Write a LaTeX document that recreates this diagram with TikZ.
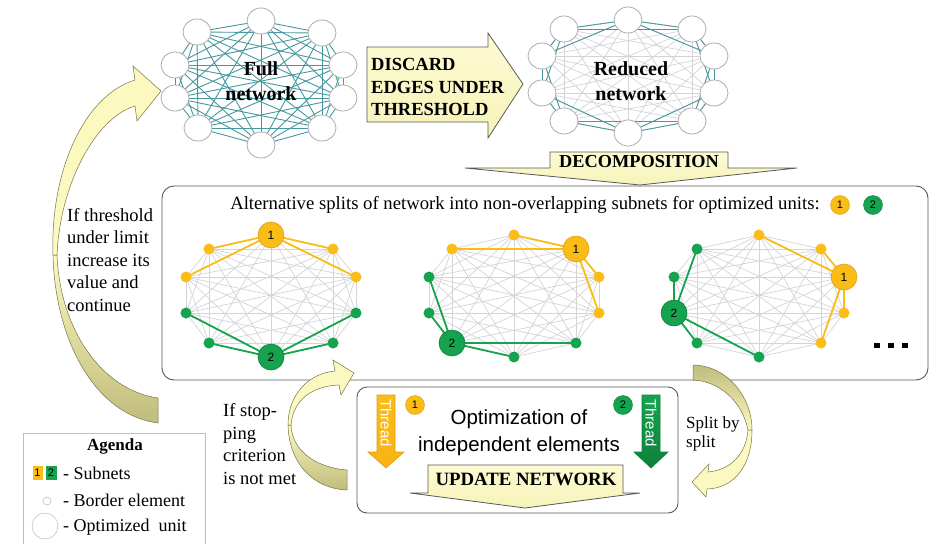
\documentclass[tikz,border=0pt]{standalone}
\usepackage{fontspec}
\setmainfont{Liberation Serif}
\setsansfont{Liberation Sans}
\usetikzlibrary{calc}
\definecolor{tealE}{RGB}{70,152,158}
\definecolor{grayE}{RGB}{212,212,216}
\definecolor{ylight}{RGB}{252,249,192}
\definecolor{yolive}{RGB}{192,188,124}
\definecolor{orangeC}{RGB}{250,188,22}
\definecolor{orangeD}{RGB}{222,160,20}
\definecolor{greenC}{RGB}{22,163,80}
\definecolor{greenD}{RGB}{14,128,58}
\definecolor{frameC}{RGB}{88,88,88}
\definecolor{circB}{RGB}{172,172,172}
\definecolor{arrowE}{RGB}{120,116,70}
\newcommand{\myfs}[2]{\fontsize{#1}{#2}\selectfont}
\tikzset{
  netcirc/.style={ellipse, draw=circB, fill=white, minimum width=28pt, minimum height=26pt, inner sep=0pt, line width=0.8pt},
  bigO/.style={circle, fill=orangeC, draw=orangeD, minimum size=26pt, inner sep=0pt, line width=0.6pt, font=\sffamily\myfs{12}{12}},
  bigG/.style={circle, fill=greenC, draw=greenD, minimum size=26pt, inner sep=0pt, line width=0.6pt, font=\sffamily\myfs{12}{12}},
  dotO/.style={circle, fill=orangeC, minimum size=11pt, inner sep=0pt},
  dotG/.style={circle, fill=greenC, minimum size=11pt, inner sep=0pt},
  smallO/.style={circle, fill=orangeC, draw=orangeD, minimum size=19pt, inner sep=0pt, font=\sffamily\myfs{11}{11}},
  smallG/.style={circle, fill=greenC, draw=greenD, minimum size=19pt, inner sep=0pt, font=\sffamily\myfs{11}{11}},
  tealedge/.style={tealE, line width=0.9pt},
  faintedge/.style={grayE, line width=0.7pt},
  grayedge/.style={grayE, line width=0.7pt},
  oedge/.style={orangeC, line width=1.8pt},
  gedge/.style={greenC, line width=1.8pt},
  yarrow/.style={draw=frameC, line width=0.8pt, top color=ylight!70!white, bottom color=ylight!90!yolive},
  btext/.style={font=\bfseries\myfs{18.5}{22.5}, align=left, inner sep=0pt},
  ntext/.style={font=\bfseries\myfs{20}{25}, align=center, inner sep=0pt},
  stext/.style={font=\myfs{18.5}{22.5}, align=left, inner sep=0pt},
  curvedge/.style={draw=arrowE, line width=0.5pt},
  roundbox/.style={draw=frameC, line width=0.9pt, rounded corners=12pt},
}
\usetikzlibrary{shapes.geometric}
\begin{document}
\begin{tikzpicture}[x=1pt,y=-1pt]
\useasboundingbox (0,0) rectangle (937,544);
\fill[white] (0,0) rectangle (937,544);

% ---------- Full network ----------
\foreach \i/\x/\y in {1/261/21, 2/322/33, 3/343/65, 4/343/98, 5/322/128, 6/261/145, 7/198/128, 8/175/98, 9/175/65, 10/197/32}
  \coordinate (F\i) at (\x,\y);
\foreach \i in {1,...,10} \foreach \j in {1,...,10} {\ifnum\i<\j \draw[tealedge] (F\i) -- (F\j);\fi}
\foreach \i in {1,...,10} \node[netcirc] (FN\i) at (F\i) {};
\node[ntext] (fulltxt) at (261,81) {Full\\network};

% ---------- Reduced network ----------
\foreach \i/\x/\y in {1/628/20, 2/692/29, 3/714/56, 4/714/93, 5/692/121, 6/628/133, 7/564/121, 8/542/93, 9/542/56, 10/564/29}
  \coordinate (R\i) at (\x,\y);
\foreach \i in {1,...,10} \foreach \j in {1,...,10} {\ifnum\i<\j \draw[faintedge] (R\i) -- (R\j);\fi}
\foreach \i in {1,...,10} {
  \pgfmathtruncatemacro\j{mod(\i,10)+1}
  \pgfmathtruncatemacro\k{mod(\i+1,10)+1}
  \draw[tealedge] (R\i) -- (R\j);
  \draw[tealedge] (R\i) -- (R\k);
}
\foreach \i in {1,...,10} \node[netcirc] (RN\i) at (R\i) {};
\node[ntext] (redtxt) at (631,81) {Reduced\\network};

% ---------- Discard arrow ----------
\draw[yarrow] (367,47) -- (488,47) -- (488,33) -- (523,84) -- (488,138) -- (488,122) -- (367,122) -- cycle;
\node[btext, anchor=west] (discard) at (371,87) {DISCARD\\EDGES UNDER\\THRESHOLD};

% ---------- Decomposition arrow ----------
\draw[yarrow] (550,152) -- (728,152) -- (728,168) -- (797,168) -- (640,185) -- (465,168) -- (550,168) -- cycle;
\node[font=\bfseries\myfs{18.3}{18}, inner sep=0pt] (decomp) at (639,162) {DECOMPOSITION};

% ---------- Alternative splits box ----------
\draw[roundbox] (162,186) rectangle (928,380);
\node[font=\myfs{18.7}{20}, inner sep=0pt] (alttxt) at (525,205) {Alternative splits of network into non-overlapping subnets for optimized units:};
\node[smallO] (alt1) at (840,205) {1};
\node[smallG] (alt2) at (873,205) {2};

\foreach \g/\cx in {A/271, B/514, C/759} {
  \foreach \i/\dx/\dy in {1/0/-61, 2/62/-47, 3/85/-19, 4/85/17, 5/62/47, 6/0/61, 7/-62/47, 8/-85/17, 9/-85/-19, 10/-62/-47}
    \coordinate (\g\i) at (\cx+\dx, 296+\dy);
}
\foreach \g in {A,B,C} \foreach \i in {1,...,10} \foreach \j in {1,...,10} {\ifnum\i<\j \draw[grayedge] (\g\i) -- (\g\j);\fi}
% graph A
\foreach \j in {2,3,9,10} \draw[oedge] (A1) -- (A\j);
\foreach \j in {4,5,7,8} \draw[gedge] (A6) -- (A\j);
\foreach \j in {2,3,9,10} \node[dotO] (dA\j) at (A\j) {};
\foreach \j in {4,5,7,8} \node[dotG] (dA\j) at (A\j) {};
\node[bigO] (dA1) at (A1) {1};
\node[bigG] (dA6) at (A6) {2};
% graph B
\foreach \j in {1,10,3,4} \draw[oedge] (B2) -- (B\j);
\foreach \j in {9,8,5,6} \draw[gedge] (B7) -- (B\j);
\foreach \j in {1,10,3,4} \node[dotO] (dB\j) at (B\j) {};
\foreach \j in {9,8,5,6} \node[dotG] (dB\j) at (B\j) {};
\node[bigO] (dB2) at (B2) {1};
\node[bigG] (dB7) at (B7) {2};
% graph C
\foreach \j in {1,2,4,5} \draw[oedge] (C3) -- (C\j);
\foreach \j in {10,9,7,6} \draw[gedge] (C8) -- (C\j);
\foreach \j in {1,2,4,5} \node[dotO] (dC\j) at (C\j) {};
\foreach \j in {10,9,7,6} \node[dotG] (dC\j) at (C\j) {};
\node[bigO] (dC3) at (C3) {1};
\node[bigG] (dC8) at (C8) {2};
% dots
\foreach \x [count=\n] in {877,891,905} \fill[black] (\x-2.7,342.5) rectangle (\x+2.7,348) node[coordinate] (ell\n) {};

% ---------- Optimization box ----------
\draw[roundbox, rounded corners=10pt] (357,387) rectangle (678,513);
\draw[draw=orangeD, line width=0.6pt, top color=orangeC, bottom color=orangeC!85!orange] (377,395) -- (395,395) -- (395,452) -- (404,452) -- (386,468) -- (368,452) -- (377,452) -- cycle;
\node[rotate=-90, font=\sffamily\myfs{15}{15}, text=white, inner sep=0pt] (th1) at (386,423) {Thread};
\draw[draw=greenD, line width=0.6pt, top color=greenC, bottom color=greenD] (642,395) -- (660,395) -- (660,452) -- (668,452) -- (651,468) -- (634,452) -- (642,452) -- cycle;
\node[rotate=-90, font=\sffamily\myfs{15}{15}, text=white, inner sep=0pt] (th2) at (651,423) {Thread};
\node[smallO] (opt1) at (415,405) {1};
\node[smallG] (opt2) at (623,405) {2};
\node[font=\sffamily\myfs{20.5}{27}, align=center, inner sep=0pt] (opttxt) at (519,433) {Optimization of\\independent elements};
\draw[yarrow] (428,465) -- (623,465) -- (623,493) -- (640,493) -- (525,508) -- (410,493) -- (428,493) -- cycle;
\node[font=\bfseries\myfs{18.8}{18}, inner sep=0pt] (update) at (526,479) {UPDATE NETWORK};

% ---------- Left big curved arrow ----------
\draw[curvedge, top color=ylight, bottom color=yolive] (53,255) .. controls (55,340) and (95,415) .. (158,423) -- (158,398) .. controls (102,390) and (60,330) .. (57,255) -- cycle;
\draw[curvedge, fill=ylight] (57,255) .. controls (60,185) and (95,118) .. (135,106) -- (137,121) -- (161,91) -- (133,66) -- (135,80) .. controls (85,95) and (50,170) .. (53,255) -- cycle;
\node[stext, anchor=west] (thrtxt) at (67,260) {If threshold\\under limit\\increase its\\value and\\continue};

% ---------- Stopping curved arrow ----------
\draw[curvedge, top color=ylight, bottom color=yolive] (288,425) .. controls (289,465) and (315,489) .. (347,490) -- (347,470) .. controls (318,468) and (292,452) .. (291,425) -- cycle;
\draw[curvedge, fill=ylight] (291,425) .. controls (293,400) and (312,386) .. (339,385) -- (341,395) -- (354,373) -- (333,360) -- (335,371) .. controls (305,374) and (288,398) .. (288,425) -- cycle;
\node[stext, anchor=west] (stoptxt) at (223,444) {If stop-\\ping\\criterion\\is not met};

% ---------- Split curved arrow ----------
\draw[curvedge, top color=yolive, bottom color=ylight] (693,365) .. controls (725,365) and (752,395) .. (752,430) -- (748,430) .. controls (742,400) and (718,381) .. (693,380) -- cycle;
\draw[curvedge, fill=ylight] (752,430) .. controls (752,465) and (735,488) .. (707,489) -- (706,497) -- (692,482) -- (709,464) -- (708,472) .. controls (730,470) and (746,455) .. (748,430) -- cycle;
\node[stext, anchor=west, font=\myfs{17}{19}] (splittxt) at (686,434) {Split by\\split};

% ---------- Agenda ----------
\draw[draw=circB!80!white, line width=0.8pt] (23,544) -- (23,433) -- (205,433) -- (205,544);
\node[font=\bfseries\myfs{17}{17}, inner sep=0pt] (agenda) at (115,446) {Agenda};
\node[fill=orangeC, minimum width=10pt, minimum height=14pt, inner sep=0pt, font=\sffamily\myfs{11}{11}] (ag1) at (37.5,473) {1};
\node[fill=greenC, minimum width=11pt, minimum height=14pt, inner sep=0pt, font=\sffamily\myfs{11}{11}] (ag2) at (51,473) {2};
\node[font=\myfs{18}{18}, anchor=west, inner sep=0pt] (agt1) at (63,473) {- Subnets};
\node[circle, draw=circB, minimum size=8pt, inner sep=0pt] (agc1) at (47,501) {};
\node[font=\myfs{18}{18}, anchor=west, inner sep=0pt] (agt2) at (63,500) {- Border element};
\node[circle, draw=circB, minimum size=26pt, inner sep=0pt] (agc2) at (45,526) {};
\node[font=\myfs{18}{18}, anchor=west, inner sep=0pt] (agt3) at (63,527) {- Optimized\ \ unit};
\end{tikzpicture}
\end{document}
